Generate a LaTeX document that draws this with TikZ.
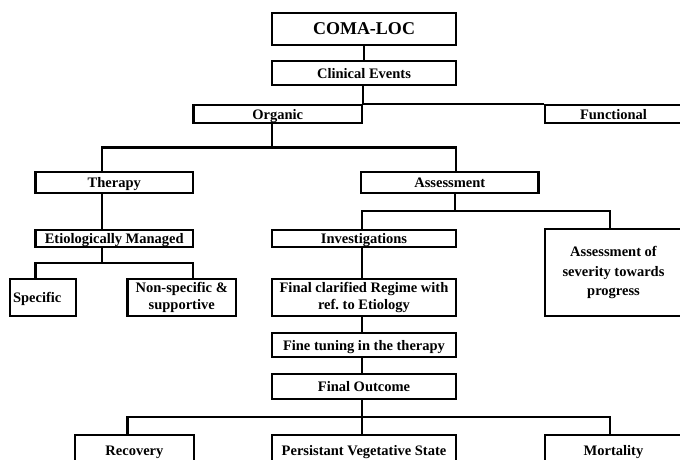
\documentclass[tikz,border=0pt]{standalone}
\usepackage{fontspec}
\setmainfont{Liberation Serif}
\begin{document}
\begin{tikzpicture}[x=1pt,y=-1pt,
  box/.style={draw,line width=2.2pt,rectangle,inner sep=0pt,
    font=\bfseries\fontsize{14.5}{17}\selectfont,align=center},
  onebox/.style={box,text height=12pt,text depth=1.5pt},
  wire/.style={line width=2.2pt}]
\useasboundingbox (0,0) rectangle (680,459);
\clip (0,0) rectangle (680,459);
% nodes
\node[box,minimum width=184pt,minimum height=32pt,font=\bfseries\fontsize{18}{20}\selectfont,text height=13pt,text depth=1.5pt] (coma) at (364,29) {COMA-LOC};
\node[onebox,minimum width=184pt,minimum height=24pt] (clin) at (364,73) {Clinical Events};
\node[onebox,minimum width=168.6pt,minimum height=18pt] (org) at (277.7,114) {Organic};
\node[onebox,minimum width=137pt,minimum height=18pt] (func) at (613.5,114) {Functional};
\node[onebox,minimum width=157.5pt,minimum height=21pt] (ther) at (114.25,182.5) {Therapy};
\node[onebox,minimum width=177.5pt,minimum height=21pt] (asse) at (449.75,182.5) {Assessment};
\node[onebox,minimum width=157.5pt,minimum height=17pt] (etio) at (114.25,238.3) {Etiologically Managed};
\node[onebox,minimum width=184pt,minimum height=17pt] (inv) at (364,238.3) {Investigations};
\node[box,minimum width=137pt,minimum height=87pt,font=\bfseries\fontsize{14.5}{19.5}\selectfont] (sev) at (613.5,272.6) {Assessment of\\severity towards\\progress};
\node[onebox,minimum width=66pt,minimum height=37pt,text width=60pt,inner xsep=3pt,align=left] (spec) at (43,297.5) {Specific};
\node[box,minimum width=108.5pt,minimum height=37pt] (nons) at (181.75,297.5) {Non-specific \&\\supportive};
\node[box,minimum width=184pt,minimum height=37pt] (fin) at (364,297.5) {Final clarified Regime with\\ref.\ to Etiology};
\node[onebox,minimum width=184pt,minimum height=24pt] (tune) at (364,345) {Fine tuning in the therapy};
\node[onebox,minimum width=184pt,minimum height=25pt] (out) at (364,386.5) {Final Outcome};
\node[onebox,minimum width=118.5pt,minimum height=30pt] (rec) at (134.4,450) {Recovery};
\node[onebox,minimum width=184pt,minimum height=30pt] (pvs) at (364,450) {Persistant Vegetative State};
\node[onebox,minimum width=137pt,minimum height=30pt] (mort) at (613.5,450) {Mortality};
% junction coordinates
\coordinate (oj) at (271.7,147.5);
\coordinate (ol) at (102,147.5);
\coordinate (or) at (456,147.5);
\coordinate (em) at (102,262.7);
\coordinate (el) at (35.5,262.7);
\coordinate (er) at (193,262.7);
\coordinate (am) at (455,211);
\coordinate (al) at (362,211);
\coordinate (ar) at (610,211);
\coordinate (fm) at (362,416.7);
\coordinate (fl) at (127.5,416.7);
\coordinate (fr) at (610,416.7);
% connectors
\draw[wire] (coma.south) -- (clin.north);
\draw[wire] (clin.south -| org.east) -- (org.north east);
\draw[wire] (org.north east) -- (func.north west);
\draw[wire] (org.south -| oj) -- (oj);
\draw[wire] (ther.north -| ol) -- (ol) -- (or) -- (asse.north -| or);
\draw[wire] (ther.south -| ol) -- (etio.north -| ol);
\draw[wire] (etio.south -| em) -- (em);
\draw[wire] (spec.north -| el) -- (el) -- (er) -- (nons.north -| er);
\draw[wire] (asse.south -| am) -- (am);
\draw[wire] (inv.north -| al) -- (al) -- (ar) -- (sev.north -| ar);
\draw[wire] (inv.south -| al) -- (fin.north -| al);
\draw[wire] (fin.south -| al) -- (tune.north -| al);
\draw[wire] (tune.south -| al) -- (out.north -| al);
\draw[wire] (out.south -| fm) -- (fm);
\draw[wire] (rec.north -| fl) -- (fl) -- (fr) -- (mort.north -| fr);
\draw[wire] (fm) -- (pvs.north -| fm);
\end{tikzpicture}
\end{document}
